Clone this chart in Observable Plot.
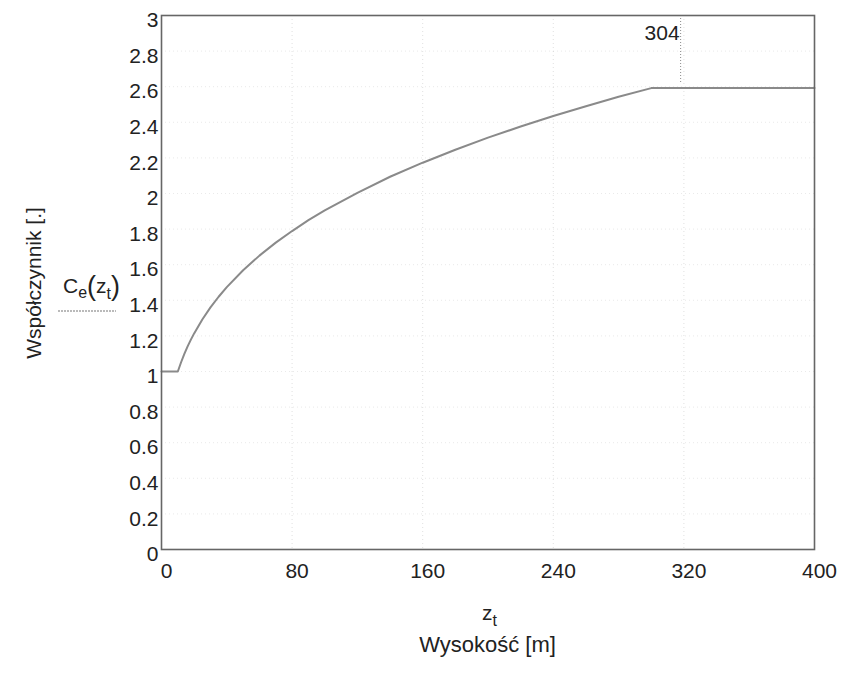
<!DOCTYPE html>
<html>
<head>
<meta charset="utf-8">
<script src="https://cdn.jsdelivr.net/npm/d3@7"></script>
<script src="https://cdn.jsdelivr.net/npm/@observablehq/plot@0.6"></script>
<style>
  html, body { margin: 0; padding: 0; background: #fff; }
  #chart svg { display: block; }
</style>
</head>
<body>
<div id="chart"></div>
<script>
// Data
const zValues  = [0, 10, 12, 14, 16, 18, 20, 25, 30, 35, 40, 50, 60, 70, 80, 90, 100, 120, 140, 160, 180, 200, 220, 240, 260, 280, 300, 400];
const ceValues = [1.000, 1.000, 1.052, 1.099, 1.141, 1.179, 1.214, 1.292, 1.360, 1.420, 1.474, 1.569, 1.651, 1.724, 1.789, 1.850, 1.905, 2.004, 2.094, 2.173, 2.246, 2.314, 2.376, 2.435, 2.490, 2.544, 2.592, 2.592];
const xTicks = [0, 80, 160, 240, 320, 400];
const yTicks = [0, 0.2, 0.4, 0.6, 0.8, 1, 1.2, 1.4, 1.6, 1.8, 2, 2.2, 2.4, 2.6, 2.8, 3];
const yTickLabels = ["0", "0.2", "0.4", "0.6", "0.8", "1", "1.2", "1.4", "1.6", "1.8", "2", "2.2", "2.4", "2.6", "2.8", "3"];
const markerZ = 318;
const markerLabel = "304";
const yLabel = "Współczynnik [.]";
const xLabel = "Wysokość [m]";

const data = zValues.map((z, i) => ({z, ce: ceValues[i]}));

const W = 846, H = 674;
const mL = 161, mR = 32, mT = 15, mB = 125;

const plot = Plot.plot({
  width: W,
  height: H,
  marginLeft: mL,
  marginRight: mR,
  marginTop: mT,
  marginBottom: mB,
  style: {fontFamily: "'Liberation Sans', Arial, sans-serif", fontSize: "21px", color: "#222", background: "#fff"},
  x: {domain: [0, 400]},
  y: {domain: [0, 3]},
  marks: [
    Plot.gridX(xTicks.slice(1, -1), {stroke: "#aaa", strokeOpacity: 0.35, strokeDasharray: "1,3"}),
    Plot.gridY(yTicks.slice(1, -1), {stroke: "#aaa", strokeOpacity: 0.25, strokeDasharray: "1,3"}),
    Plot.axisX(xTicks, {tickSize: 0, tickPadding: 14, dx: 5, label: null, fill: "#222", fontSize: 21}),
    Plot.axisY(yTicks, {tickSize: 0, tickPadding: 3, dy: 5, label: null, fill: "#222", fontSize: 21,
      tickFormat: (d) => yTickLabels[yTicks.indexOf(d)]}),
    Plot.ruleX([markerZ], {y1: 3, y2: 2.62, stroke: "#888", strokeDasharray: "1,2", strokeWidth: 1}),
    Plot.text([markerLabel], {x: markerZ, y: 3, dx: -1, dy: 18, textAnchor: "end", fill: "#222", fontSize: 21}),
    Plot.line(data, {x: "z", y: "ce", stroke: "#8a8a8a", strokeWidth: 2}),
    Plot.frame({stroke: "#666", strokeWidth: 1.6})
  ]
});

document.getElementById("chart").appendChild(plot);

const svg = d3.select(plot);
const font = "'Liberation Sans', Arial, sans-serif";
const cx = (mL + (W - mR)) / 2;

// Rotated y label
svg.append("text")
  .attr("transform", `translate(33, 283) rotate(-90)`)
  .attr("text-anchor", "middle")
  .attr("dominant-baseline", "central")
  .attr("font-family", font)
  .attr("font-size", 21)
  .attr("fill", "#222")
  .text(yLabel);

// C_e(z_t) legend-like label
const ce = svg.append("text")
  .attr("x", 63).attr("y", 293)
  .attr("text-anchor", "start")
  .attr("font-family", font)
  .attr("font-size", 21)
  .attr("fill", "#222");
ce.append("tspan").text("C");
ce.append("tspan").attr("dy", 5).attr("font-size", 16).text("e");
ce.append("tspan").attr("dy", -3).attr("font-size", 27).text("(");
ce.append("tspan").attr("dy", -2).text("z");
ce.append("tspan").attr("dy", 6).attr("font-size", 16).text("t");
ce.append("tspan").attr("dy", -4).attr("font-size", 27).text(")");

svg.append("line")
  .attr("x1", 58).attr("x2", 116)
  .attr("y1", 311).attr("y2", 311)
  .attr("stroke", "#777").attr("stroke-width", 1.2)
  .attr("stroke-dasharray", "2,1");

// x variable label z_t
const zt = svg.append("text")
  .attr("x", cx + 2).attr("y", 620)
  .attr("text-anchor", "middle")
  .attr("font-family", font)
  .attr("font-size", 21)
  .attr("fill", "#222");
zt.append("tspan").text("z");
zt.append("tspan").attr("dy", 6).attr("font-size", 16).text("t");

// x axis title
svg.append("text")
  .attr("x", cx).attr("y", 652)
  .attr("text-anchor", "middle")
  .attr("font-family", font)
  .attr("font-size", 22)
  .attr("fill", "#222")
  .text(xLabel);
</script>
</body>
</html>
